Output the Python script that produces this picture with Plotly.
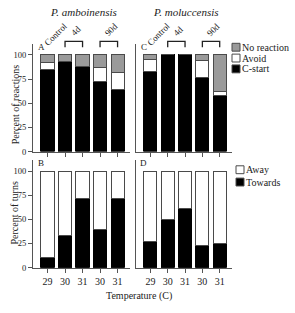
import plotly.graph_objects as go

# ---------------- data ----------------
positions = [0, 1, 2, 3, 4]
temps = ["29", "30", "31", "30", "31"]
yticks = [0, 25, 50, 75, 100]

# Panel A: P. amboinensis reactions (%)
A_cstart = [85, 93, 88, 72, 64]
A_avoid = [7.5, 0, 0, 14.5, 18]
A_noreact = [7.5, 7, 12, 13.5, 18]

# Panel C: P. moluccensis reactions (%)
C_cstart = [83, 100, 100, 76.5, 58]
C_avoid = [12, 0, 0, 17.5, 4]
C_noreact = [5, 0, 0, 6, 38]

# Panel B: P. amboinensis turns (%)
B_towards = [10, 33, 72, 40, 72]
B_away = [90, 67, 28, 60, 28]

# Panel D: P. moluccensis turns (%)
D_towards = [27, 50, 61, 23, 25]
D_away = [73, 50, 39, 77, 75]

titles = ["P. amboinensis", "P. moluccensis"]
panel_letters = ["A", "C", "B", "D"]
group_labels = ["Control", "4d", "90d"]

# ---------------- style ----------------
W, H = 295, 313
FONT = "Liberation Serif"
BLACK = "#000000"
GRAY = "#9a9a9a"
WHITE = "#ffffff"
EDGE = "#4a4a4a"
AXC = "#555555"
TXT = "#222222"

def px(x):
    return x / W

def py(y):
    return 1 - y / H

XR = [-0.83, 4.71]
YR = [0, 111]
colL = [px(33), px(130)]
colR = [px(136), px(232)]
rowT = [py(154), py(45)]
rowB = [py(272), py(163)]

fig = go.Figure()

def add_bar(xa, ya, vals, color, name, edge=EDGE):
    fig.add_trace(go.Bar(
        x=positions, y=vals, xaxis=xa, yaxis=ya, name=name,
        marker=dict(color=color, line=dict(color=edge, width=1)),
        width=0.75, showlegend=False, hoverinfo="skip"))

add_bar("x", "y", A_cstart, BLACK, "C-start", BLACK)
add_bar("x", "y", A_avoid, WHITE, "Avoid")
add_bar("x", "y", A_noreact, GRAY, "No reaction")
add_bar("x2", "y2", C_cstart, BLACK, "C-start", BLACK)
add_bar("x2", "y2", C_avoid, WHITE, "Avoid")
add_bar("x2", "y2", C_noreact, GRAY, "No reaction")
add_bar("x3", "y3", B_towards, BLACK, "Towards", BLACK)
add_bar("x3", "y3", B_away, WHITE, "Away")
add_bar("x4", "y4", D_towards, BLACK, "Towards", BLACK)
add_bar("x4", "y4", D_away, WHITE, "Away")

xcommon = dict(range=XR, showgrid=False, zeroline=False, showline=True,
               linecolor=AXC, linewidth=1, ticks="outside", ticklen=4,
               tickcolor=AXC, tickvals=positions, fixedrange=True,
               tickfont=dict(family=FONT, size=10, color=TXT))
ycommon = dict(range=YR, showgrid=False, zeroline=False, showline=True,
               linecolor=AXC, linewidth=1, fixedrange=True,
               tickfont=dict(family=FONT, size=8.5, color=TXT))

fig.update_layout(
    width=W, height=H, margin=dict(l=0, r=0, t=0, b=0),
    paper_bgcolor="white", plot_bgcolor="white", barmode="stack",
    showlegend=False,
    xaxis=dict(domain=colL, anchor="y", showticklabels=False, **xcommon),
    xaxis2=dict(domain=colR, anchor="y2", showticklabels=False, **xcommon),
    xaxis3=dict(domain=colL, anchor="y3", ticktext=temps, **xcommon),
    xaxis4=dict(domain=colR, anchor="y4", ticktext=temps, **xcommon),
    yaxis=dict(domain=rowT, anchor="x", tickvals=yticks, ticks="outside",
               ticklen=4, tickcolor=AXC, **ycommon),
    yaxis2=dict(domain=rowT, anchor="x2", showticklabels=False, ticks="", **ycommon),
    yaxis3=dict(domain=rowB, anchor="x3", tickvals=yticks, ticks="outside",
                ticklen=4, tickcolor=AXC, **ycommon),
    yaxis4=dict(domain=rowB, anchor="x4", showticklabels=False, ticks="", **ycommon),
)

ann = []

def text(t, x, y, size=10, xref="paper", angle=0, xanchor="center"):
    ann.append(dict(text=t, x=x, y=y, xref=xref, yref="paper", textangle=angle,
                    xanchor=xanchor, yanchor="middle", showarrow=False,
                    borderpad=0, font=dict(family=FONT, size=size, color=TXT)))

# titles
text("<i>" + titles[0] + "</i>", px(83), py(12), size=11)
text("<i>" + titles[1] + "</i>", px(186), py(12), size=11)
# panel letters
for letter, (x, y) in zip(panel_letters, [(41, 47.5), (144, 47.5), (41, 166), (143, 166)]):
    text(letter, px(x), py(y), size=9)
# axis titles
text("Percent of reactions", px(15), py(106), angle=-90)
text("Percent of turns", px(15), py(217), angle=-90)
text("Temperature (C)", px(139), py(301))

shapes = []
# group labels and brackets
for xa in ["x", "x2"]:
    for lab, xpos, ypos in zip(group_labels, [0.5, 1.6, 3.6], [35, 31, 30]):
        text(lab, xpos, py(ypos), size=9, xref=xa, angle=-45)
    for a, b in [(positions[1], positions[2]), (positions[3], positions[4])]:
        shapes.append(dict(type="path", xref=xa, yref="paper",
                           path=f"M {a} {py(48)} L {a} {py(42)} L {b} {py(42)} L {b} {py(48)}",
                           line=dict(color=TXT, width=1.3)))

# manual legends
def legend_item(x, y, color, label):
    shapes.append(dict(type="rect", xref="paper", yref="paper",
                       x0=px(x), x1=px(x + 8), y0=py(y + 4), y1=py(y - 4),
                       fillcolor=color, line=dict(color=EDGE, width=1)))
    text(label, px(x + 9), py(y), size=10, xanchor="left")

legend_item(232, 48, GRAY, "No reaction")
legend_item(232, 59, WHITE, "Avoid")
legend_item(232, 70, BLACK, "C-start")
legend_item(236, 172.5, WHITE, "Away")
legend_item(236, 185, BLACK, "Towards")

fig.update_layout(annotations=ann, shapes=shapes)
fig.write_html("out.html")
